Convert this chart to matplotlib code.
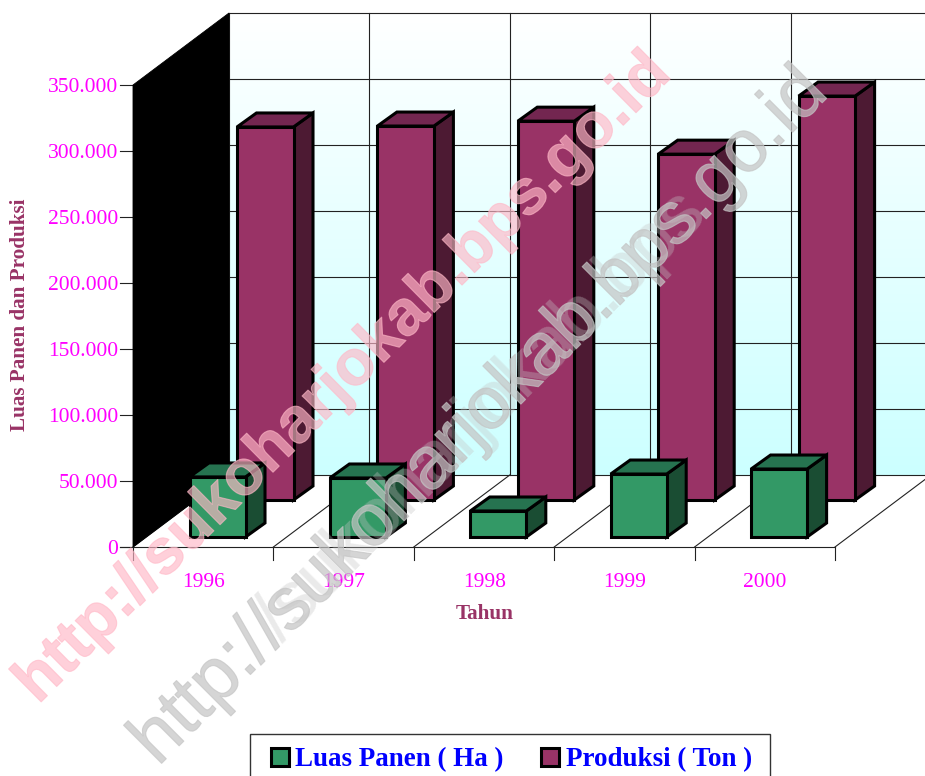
import numpy as np
import matplotlib
matplotlib.use("Agg")
import matplotlib.pyplot as plt
import matplotlib.patheffects as pe
from matplotlib.patches import Polygon, Rectangle
from matplotlib.textpath import TextPath
from matplotlib.font_manager import FontProperties

years = ["1996", "1997", "1998", "1999", "2000"]
luas_panen = [45500, 44700, 19700, 47700, 51500]
produksi = [282600, 283300, 287000, 262000, 306000]
tick_values = [0, 50000, 100000, 150000, 200000, 250000, 300000, 350000]
tick_labels = ["0", "50.000", "100.000", "150.000", "200.000", "250.000", "300.000", "350.000"]
series_names = ["Luas Panen ( Ha )", "Produksi ( Ton )"]
watermark = "http://sukoharjokab.bps.go.id"
watermark_head = "http://"
watermark_mid = "/sukoharjokab.bps"

PURPLE = ("#993366", "#732650", "#4d1a33")
GREEN = ("#339966", "#267350", "#1a4d33")
MAGENTA = "#ff00ff"
SERIF = "Liberation Serif"

fig = plt.figure(figsize=(9.25, 7.76), dpi=100)
ax = fig.add_axes([0, 0, 1, 1])

X0, Y0 = 133, 547
DX, DY = 96, -72
STEP = 140.4
PX_PER_UNIT = 66 / 50000
RIGHT = 925


def yv(v):
    return Y0 - v * PX_PER_UNIT


top_back = yv(350000) + DY
floor_back = Y0 + DY

# back wall gradient
t = np.linspace(0, 1, 256)[:, None, None]
grad = t * np.array([204, 255, 255]) / 255 + (1 - t) * np.array([1, 1, 1])
ax.imshow(grad, extent=(X0 + DX, RIGHT, floor_back, top_back), aspect="auto", zorder=1)
ax.set_xlim(0, 925)
ax.set_ylim(776, 0)
ax.axis("off")

LC = "#222222"
for v in tick_values:
    ax.plot([X0 + DX, RIGHT], [yv(v) + DY] * 2, color=LC, lw=0.8, zorder=2)
    ax.plot([120, X0], [yv(v)] * 2, color=LC, lw=0.8, zorder=2)
for i in range(len(years) + 1):
    x = X0 + i * STEP
    if x + DX < RIGHT:
        ax.plot([x + DX] * 2, [top_back, floor_back], color=LC, lw=0.8, zorder=2)
    xe = min(x + DX, RIGHT)
    ax.plot([x, xe], [Y0, Y0 + DY * (xe - x) / DX], color=LC, lw=0.8, zorder=2)
    ax.plot([x, x], [Y0, Y0 + 13], color=LC, lw=0.8, zorder=2)
ax.plot([120, X0 + 5 * STEP], [Y0, Y0], color=LC, lw=0.8, zorder=2)

# black side wall
ax.add_patch(Polygon([(X0, yv(350000)), (X0 + DX, top_back), (X0 + DX, floor_back), (X0, Y0)],
                     facecolor="black", edgecolor="black", lw=0.6, zorder=3))


def bar3d(x, w, base, value, cols, z):
    top = base - value * PX_PER_UNIT
    dx, dy = 19.5, -14
    kw = dict(edgecolor="black", lw=2.2, joinstyle="miter", zorder=z)
    ax.add_patch(Polygon([(x + w, base), (x + w + dx, base + dy), (x + w + dx, top + dy), (x + w, top)],
                         facecolor=cols[2], **kw))
    ax.add_patch(Polygon([(x, top), (x + dx, top + dy), (x + w + dx, top + dy), (x + w, top)],
                         facecolor=cols[1], **kw))
    ax.add_patch(Rectangle((x, top), w, base - top, facecolor=cols[0], **kw))


for i in range(len(years)):
    bar3d(X0 + 104 + i * STEP, 56.5, 500, produksi[i], PURPLE, 4)
for i in range(len(years)):
    bar3d(X0 + 56.5 + i * STEP, 56, 537, luas_panen[i], GREEN, 5)

# tick labels and titles
for v, lab in zip(tick_values, tick_labels):
    ax.text(118, yv(v) + 2, lab, color=MAGENTA, family=SERIF, fontsize=15.5, ha="right", va="center", zorder=6)
for i, y in enumerate(years):
    ax.text(X0 + 70.5 + i * STEP, 582.5, y, color=MAGENTA, family=SERIF, fontsize=15.5, ha="center", va="center", zorder=6)
ax.text(20.5, 315, "Luas Panen dan Produksi", color="#993366", family=SERIF, fontsize=15.2,
        fontweight="bold", rotation=90, ha="center", va="center", zorder=6)
ax.text(485, 614, "Tahun", color="#993366", family=SERIF, fontsize=15.2,
        fontweight="bold", ha="center", va="center", zorder=6)

# legend (clipped by the bottom of the figure)
ax.add_patch(Rectangle((250, 734), 520, 60, facecolor="white", edgecolor="#333333", lw=1, zorder=6))
for sx, tx, cols, name in zip([271, 541], [295, 566], [GREEN, PURPLE], series_names):
    ax.add_patch(Rectangle((sx, 748), 18, 18, facecolor=cols[0], edgecolor="black", lw=2.2, zorder=7))
    ax.text(tx, 760, name, color="#0000ff", family=SERIF, fontsize=19.45, fontweight="bold",
            ha="left", va="center", zorder=7)


# watermarks: each one is fitted to the baseline
def fitted_size(text, weight, length_px):
    fp = FontProperties(family="Liberation Sans", weight=weight)
    w = TextPath((0, 0), text, size=100, prop=fp).get_extents().width
    return 100 * length_px / w * 72 / 100


def run_of(text, weight, size):
    fp = FontProperties(family="Liberation Sans", weight=weight)
    return TextPath((0, 0), text, size=size, prop=fp).get_extents().width * 100 / 72


p0, p1 = np.array([38.0, 705.0]), np.array([667.0, 82.0])
size_p = fitted_size(watermark, "bold", np.hypot(*(p1 - p0)))
ang_p = np.degrees(np.arctan2(p0[1] - p1[1], p1[0] - p0[0]))
pink = (1, 0.72, 0.78)
ax.text(p0[0], p0[1], watermark, color=pink, alpha=0.65, family="Liberation Sans", fontweight="bold",
        fontsize=size_p, rotation=ang_p, rotation_mode="anchor", ha="left", va="baseline", zorder=8,
        path_effects=[pe.Stroke(linewidth=0.8, foreground=pink, alpha=0.65)])

g0, g1 = np.array([158.0, 767.0]), np.array([823.0, 102.0])
size_g = fitted_size(watermark, "normal", np.hypot(*(g1 - g0)))
ang_g = np.degrees(np.arctan2(g0[1] - g1[1], g1[0] - g0[0]))
gray = (0.77, 0.77, 0.77)
ax.text(g0[0], g0[1], watermark, color=gray, alpha=0.7, family="Liberation Sans",
        fontsize=size_g, rotation=ang_g, rotation_mode="anchor", ha="left", va="baseline", zorder=9,
        path_effects=[pe.Stroke(linewidth=0.8, foreground=gray, alpha=0.7)])
# doubled middle part of the gray watermark
u = (g1 - g0) / np.hypot(*(g1 - g0))
start = run_of(watermark_head, "normal", size_g) - run_of("/", "normal", size_g) * 0.5 + 5
gm = g0 + u * start
ax.text(gm[0], gm[1], watermark_mid, color=gray, alpha=0.35, family="Liberation Sans",
        fontsize=size_g, rotation=ang_g, rotation_mode="anchor", ha="left", va="baseline", zorder=9)

fig.savefig("out.png", dpi=100)
